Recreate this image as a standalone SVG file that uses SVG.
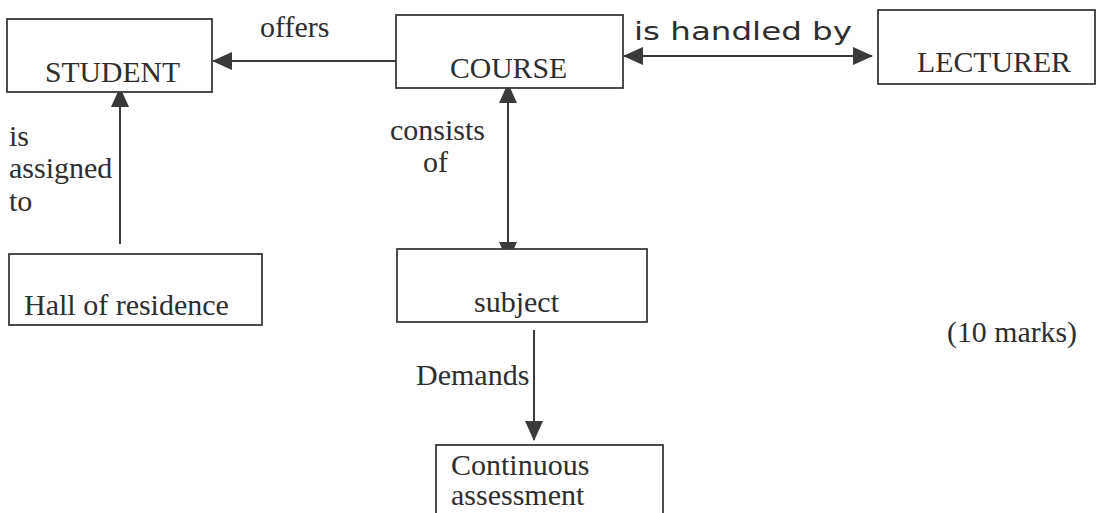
<svg xmlns="http://www.w3.org/2000/svg" width="1099" height="513" viewBox="0 0 1099 513">
<style>
.box{fill:#fff;stroke:#3a3a3a;stroke-width:1.8}
.t{font-family:"Liberation Serif","Times New Roman",serif;font-size:30px;fill:#2e2e2e}
.hw{font-family:"DejaVu Sans","Liberation Sans",sans-serif;font-size:25px;fill:#2e2e2e}
.ln{stroke:#3a3a3a;stroke-width:2;fill:none}
</style>
<defs>
<marker id="ah" markerUnits="userSpaceOnUse" markerWidth="20" markerHeight="18" refX="19" refY="9" orient="auto-start-reverse" viewBox="0 0 20 18">
<path d="M0,0 L20,9 L0,18 Z" fill="#3a3a3a"/>
</marker>
</defs>
<rect width="1099" height="513" fill="#fff"/>
<g id="connectors">
<line class="ln" x1="396" y1="61" x2="213" y2="61" marker-end="url(#ah)"/>
<line class="ln" x1="624" y1="56" x2="872" y2="56" marker-start="url(#ah)" marker-end="url(#ah)"/>
<line class="ln" x1="120" y1="244" x2="120" y2="88" marker-end="url(#ah)"/>
<line class="ln" x1="508" y1="84" x2="508" y2="261" marker-start="url(#ah)" marker-end="url(#ah)"/>
<line class="ln" x1="534" y1="330" x2="534" y2="440" marker-end="url(#ah)"/>
<text class="t" x="260" y="37">offers</text>
<text class="hw" x="634" y="40" textLength="218" lengthAdjust="spacingAndGlyphs">is handled by</text>
<text class="t" x="9" y="146">is</text>
<text class="t" x="9" y="178">assigned</text>
<text class="t" x="9" y="211">to</text>
<text class="t" x="390" y="140">consists</text>
<text class="t" x="423" y="172">of</text>
<text class="t" x="416" y="385">Demands</text>
</g>
<g id="student">
<rect class="box" x="7" y="19" width="205" height="73"/>
<text class="t" x="45" y="82" textLength="135" lengthAdjust="spacingAndGlyphs">STUDENT</text>
</g>
<g id="course">
<rect class="box" x="396" y="15" width="227" height="73"/>
<text class="t" x="450" y="78" textLength="117" lengthAdjust="spacingAndGlyphs">COURSE</text>
</g>
<g id="lecturer">
<rect class="box" x="878" y="10" width="217" height="74"/>
<text class="t" x="917" y="72" textLength="154" lengthAdjust="spacingAndGlyphs">LECTURER</text>
</g>
<g id="hall">
<rect class="box" x="9" y="254" width="253" height="71"/>
<text class="t" x="24" y="315">Hall of residence</text>
</g>
<g id="subject">
<rect class="box" x="397" y="249" width="250" height="73"/>
<text class="t" x="474" y="312">subject</text>
</g>
<g id="assessment">
<rect class="box" x="436" y="445" width="227" height="80"/>
<text class="t" x="451" y="475">Continuous</text>
<text class="t" x="451" y="505">assessment</text>
</g>
<g id="marks">
<text class="t" x="947" y="342" textLength="130" lengthAdjust="spacingAndGlyphs">(10 marks)</text>
</g>
</svg>
